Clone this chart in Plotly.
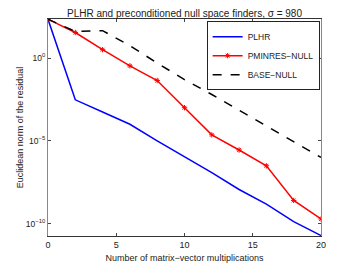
import plotly.graph_objects as go

iters = [0, 2, 4, 6, 8, 10, 12, 14, 16, 18, 20]
plhr = [2.2e2, 3.0e-3, 5.5e-4, 1.0e-4, 1.0e-5, 1.1e-6, 1.2e-7, 1.15e-8, 1.5e-9, 1.3e-10, 1.9e-11]
pminres = [2.2e2, 3.5e1, 3.2, 3.4e-1, 4.4e-2, 1.0e-3, 2.3e-5, 2.8e-6, 3.1e-7, 2.5e-9, 1.9e-10]
base = [2.2e2, 4.1e1, 4.5e1, 5.6, 5.0e-1, 5.0e-2, 6.3e-3, 7.1e-4, 7.9e-5, 8.9e-6, 1.0e-6]

xticks = [0, 5, 10, 15, 20]
yticks = [1, 1e-5, 1e-10]
yticklabels = ["10<sup>0</sup>", "10<sup>−5</sup>", "10<sup>−10</sup>"]

font = "Liberation Sans, Arial, Helvetica, sans-serif"

fig = go.Figure()
fig.add_trace(go.Scatter(x=iters, y=plhr, mode="lines", name="PLHR",
                         line=dict(color="#0000ff", width=1.5)))
fig.add_trace(go.Scatter(x=iters, y=pminres, mode="lines+markers", name="PMINRES\u2212NULL",
                         line=dict(color="#ff0000", width=1.5),
                         marker=dict(symbol="asterisk-open", size=4.5, color="#ff0000",
                                     line=dict(color="#ff0000", width=1))))
fig.add_trace(go.Scatter(x=iters, y=base, mode="lines", name="BASE\u2212NULL",
                         line=dict(color="#000000", width=1.5, dash="dash")))

fig.update_layout(
    width=346, height=258,
    margin=dict(l=37, r=33, t=11, b=30),
    paper_bgcolor="white", plot_bgcolor="white",
    font=dict(family=font, size=9, color="#222"),
    title=dict(text="PLHR and preconditioned null space finders, σ = 980",
               x=0.5, xref="paper", xanchor="center", y=0.993, yanchor="top",
               font=dict(size=10, color="#222")),
    showlegend=True,
    legend=dict(x=0.995, xanchor="right", y=0.99, yanchor="top",
                bgcolor="white", bordercolor="#222", borderwidth=1,
                font=dict(size=8.5), tracegroupgap=0,
                itemwidth=30),
)
fig.update_xaxes(range=[0, 20], tickvals=xticks, ticks="inside", ticklen=3,
                 tickcolor="#444", showgrid=False, zeroline=False, automargin=False,
                 showline=True, linecolor="#333", linewidth=1, mirror="ticks",
                 title=dict(text="Number of matrix\u2212vector multiplications",
                            font=dict(size=9), standoff=5))
fig.update_yaxes(type="log", range=[-10.75, 2.36], tickvals=yticks, ticktext=yticklabels,
                 ticks="inside", ticklen=3, tickcolor="#444", showgrid=False,
                 zeroline=False, showline=True, linecolor="#888", linewidth=1,
                 mirror="ticks", automargin=True, tickfont=dict(size=8.5),
                 title=dict(text="Euclidean norm of the residual",
                            font=dict(size=9), standoff=0))

fig.write_html("out.html")
